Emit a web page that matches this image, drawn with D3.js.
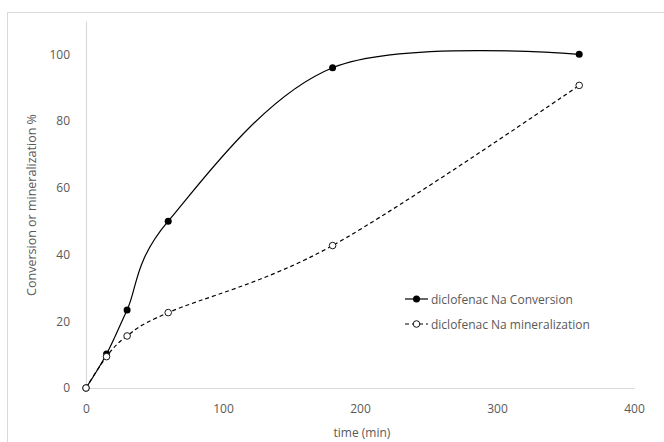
<!DOCTYPE html>
<html>
<head>
<meta charset="utf-8">
<script src="https://cdn.jsdelivr.net/npm/d3@7"></script>
<style>
  body { margin: 0; background: #fff; }
  text { font-family: "Open Sans", "Liberation Sans", sans-serif; fill: #595959; }
</style>
</head>
<body>
<div class="chart"></div>
<script>
// time points (min) and measured series
let times = [0, 15, 30, 60, 180, 360];
let conversion = [0, 10.2, 23.4, 50, 96, 100];
let mineralization = [0, 9.4, 15.6, 22.6, 42.7, 90.7];
let xTicks = [0, 100, 200, 300, 400];
let yTicks = [0, 20, 40, 60, 80, 100];
let seriesNames = ["diclofenac Na Conversion", "diclofenac Na mineralization"];

let svgWidth = 664;
let svgHeight = 442;

let margin = { top: 21, right: 30, bottom: 54, left: 86 };
let width = svgWidth - margin.left - margin.right;
let height = svgHeight - margin.top - margin.bottom;

let svg = d3.select(".chart")
  .append("svg")
  .attr("width", svgWidth)
  .attr("height", svgHeight);

// outer chart frame
svg.append("rect")
  .attr("x", 7.5).attr("y", 12.5)
  .attr("width", 700).attr("height", 500)
  .attr("fill", "none")
  .attr("stroke", "#d9d9d9");

let chartGroup = svg.append("g")
  .attr("transform", `translate(${margin.left}, ${margin.top})`);

let xScale = d3.scaleLinear().domain([0, 400]).range([0, 548]);
let yScale = d3.scaleLinear().domain([0, 110]).range([height, 0]);

// axes
let bottomAxis = d3.axisBottom(xScale).tickValues(xTicks).tickSize(0).tickPadding(16);
let leftAxis = d3.axisLeft(yScale).tickValues(yTicks).tickSize(0).tickPadding(16);

let xg = chartGroup.append("g").attr("transform", `translate(0, ${height})`).call(bottomAxis);
let yg = chartGroup.append("g").call(leftAxis);
[xg, yg].forEach(g => {
  g.select(".domain").attr("stroke", "#d9d9d9").attr("stroke-width", 1.2);
  g.selectAll("text").attr("font-size", 12).style("font-family", "'Open Sans', sans-serif").attr("fill", "#595959");
});

let line = d3.line()
  .x(d => xScale(d[0]))
  .y(d => yScale(d[1]))
  .curve(d3.curveCardinal.tension(0));

let convData = times.map((t, i) => [t, conversion[i]]);
let minData = times.map((t, i) => [t, mineralization[i]]);

chartGroup.append("path")
  .datum(minData)
  .attr("d", line)
  .attr("fill", "none")
  .attr("stroke", "#000")
  .attr("stroke-width", 1.2)
  .attr("stroke-dasharray", "4,3");

chartGroup.append("path")
  .datum(convData)
  .attr("d", line)
  .attr("fill", "none")
  .attr("stroke", "#000")
  .attr("stroke-width", 1.2);

chartGroup.selectAll(".conv")
  .data(convData)
  .enter()
  .append("circle")
  .attr("class", "conv")
  .attr("cx", d => xScale(d[0]))
  .attr("cy", d => yScale(d[1]))
  .attr("r", 3.5)
  .attr("fill", "#000");

chartGroup.selectAll(".mine")
  .data(minData)
  .enter()
  .append("circle")
  .attr("class", "mine")
  .attr("cx", d => xScale(d[0]))
  .attr("cy", d => yScale(d[1]))
  .attr("r", 3.3)
  .attr("fill", "#fff")
  .attr("stroke", "#000")
  .attr("stroke-width", 0.9);

// legend
let legend = svg.append("g").attr("transform", "translate(405, 299)");
seriesNames.forEach((name, i) => {
  let row = legend.append("g").attr("transform", `translate(0, ${i * 25})`);
  row.append("line")
    .attr("x1", 0).attr("x2", 23).attr("y1", 0).attr("y2", 0)
    .attr("stroke", "#000").attr("stroke-width", 1.2)
    .attr("stroke-dasharray", i === 0 ? null : "4,3");
  row.append("circle")
    .attr("cx", 11.5).attr("cy", 0).attr("r", i === 0 ? 3.5 : 3.3)
    .attr("fill", i === 0 ? "#000" : "#fff")
    .attr("stroke", "#000").attr("stroke-width", i === 0 ? 0 : 0.9);
  row.append("text")
    .attr("x", 26).attr("y", 4.5)
    .attr("font-size", 12)
    .text(name);
});

// axis titles
svg.append("text")
  .attr("transform", "translate(36, 205) rotate(-90)")
  .attr("text-anchor", "middle")
  .attr("font-size", 12.5)
  .text("Conversion or mineralization %");

svg.append("text")
  .attr("x", 362).attr("y", 437)
  .attr("text-anchor", "middle")
  .attr("font-size", 12)
  .text("time (min)");
</script>
</body>
</html>
